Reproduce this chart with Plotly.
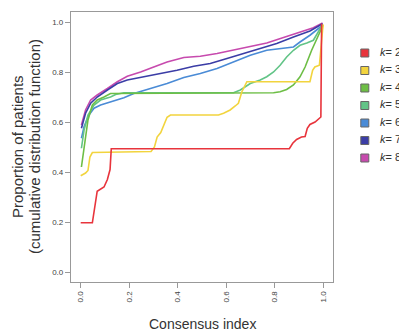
import plotly.graph_objects as go

# ---- data ----
k2_x = [0.0, 0.048, 0.068, 0.082, 0.096, 0.110, 0.121, 0.126, 0.86, 0.874, 0.89, 0.91, 0.925, 0.934, 0.945, 0.966, 0.986, 0.990, 0.993]
k2_y = [0.197, 0.197, 0.323, 0.330, 0.340, 0.370, 0.410, 0.493, 0.493, 0.515, 0.530, 0.540, 0.542, 0.575, 0.590, 0.600, 0.620, 0.620, 0.993]

k3_x = [0.0, 0.02, 0.03, 0.038, 0.048, 0.29, 0.304, 0.315, 0.33, 0.342, 0.356, 0.37, 0.568, 0.589, 0.616, 0.637, 0.65, 0.664, 0.685, 0.945, 0.956, 0.965, 0.984, 0.997, 1.0]
k3_y = [0.385, 0.396, 0.406, 0.460, 0.478, 0.482, 0.500, 0.540, 0.558, 0.588, 0.619, 0.628, 0.628, 0.635, 0.648, 0.664, 0.675, 0.720, 0.761, 0.761, 0.807, 0.820, 0.827, 0.967, 0.99]

k4_x = [0.003, 0.014, 0.03, 0.048, 0.068, 0.096, 0.123, 0.795, 0.822, 0.849, 0.877, 0.904, 0.925, 0.952, 0.979, 0.997]
k4_y = [0.420, 0.500, 0.608, 0.668, 0.688, 0.700, 0.714, 0.717, 0.721, 0.730, 0.748, 0.781, 0.820, 0.887, 0.947, 0.983]

k5_x = [0.003, 0.014, 0.03, 0.055, 0.082, 0.123, 0.144, 0.178, 0.63, 0.658, 0.699, 0.74, 0.767, 0.795, 0.822, 0.849, 0.877, 0.904, 0.932, 0.959, 0.979, 0.997]
k5_y = [0.495, 0.568, 0.628, 0.668, 0.688, 0.700, 0.710, 0.717, 0.717, 0.728, 0.754, 0.768, 0.781, 0.800, 0.827, 0.860, 0.887, 0.907, 0.916, 0.927, 0.960, 0.990]

k6_x = [0.003, 0.014, 0.034, 0.055, 0.082, 0.123, 0.178, 0.219, 0.288, 0.356, 0.425, 0.493, 0.562, 0.63, 0.699, 0.767, 0.836, 0.877, 0.904, 0.945, 0.997]
k6_y = [0.535, 0.582, 0.628, 0.655, 0.668, 0.681, 0.697, 0.714, 0.734, 0.754, 0.778, 0.794, 0.814, 0.840, 0.867, 0.887, 0.894, 0.900, 0.920, 0.947, 0.987]

k7_x = [0.003, 0.02, 0.041, 0.068, 0.11, 0.151, 0.192, 0.247, 0.315, 0.397, 0.466, 0.534, 0.603, 0.671, 0.74, 0.808, 0.877, 0.945, 0.997]
k7_y = [0.575, 0.635, 0.675, 0.700, 0.728, 0.754, 0.768, 0.778, 0.790, 0.807, 0.823, 0.834, 0.854, 0.874, 0.894, 0.914, 0.940, 0.964, 0.993]

k8_x = [0.003, 0.02, 0.041, 0.068, 0.11, 0.151, 0.192, 0.247, 0.301, 0.356, 0.425, 0.493, 0.562, 0.63, 0.699, 0.767, 0.836, 0.904, 0.959, 0.997]
k8_y = [0.588, 0.648, 0.688, 0.708, 0.734, 0.761, 0.783, 0.800, 0.820, 0.840, 0.858, 0.863, 0.874, 0.887, 0.903, 0.916, 0.938, 0.960, 0.977, 0.996]

k_labels = ["2", "3", "4", "5", "6", "7", "8"]
tick_vals = [0.0, 0.2, 0.4, 0.6, 0.8, 1.0]
tick_text = ["0.0", "0.2", "0.4", "0.6", "0.8", "1.0"]

series = [(k2_x, k2_y), (k3_x, k3_y), (k4_x, k4_y), (k5_x, k5_y),
          (k6_x, k6_y), (k7_x, k7_y), (k8_x, k8_y)]
colors = ["#E8343C", "#F2D43E", "#6DBE45", "#62C487", "#4A8BD6", "#3B3DA6", "#C74AAE"]

fig = go.Figure()
order = [6, 5, 4, 3, 2, 1, 0]
for i in order:
    xs, ys = series[i]
    fig.add_trace(go.Scatter(x=xs, y=ys, mode="lines", line=dict(color=colors[i], width=1.6),
                             showlegend=False, hoverinfo="skip"))

# legend drawn as a small key panel on its own axes
key_rows = list(range(len(k_labels)))
fig.add_trace(go.Scatter(x=[0.42] * len(k_labels), y=key_rows, mode="markers",
                         marker=dict(symbol="square", size=8, color=colors,
                                     line=dict(color="#666", width=1)),
                         xaxis="x2", yaxis="y2", showlegend=False, hoverinfo="skip",
                         cliponaxis=False))
fig.add_trace(go.Scatter(x=[0.80] * len(k_labels), y=key_rows, mode="text",
                         text=["<i>k</i>= " + lab for lab in k_labels],
                         textposition="middle right",
                         textfont=dict(family="Liberation Sans", size=11, color="#333"),
                         xaxis="x2", yaxis="y2", showlegend=False, hoverinfo="skip",
                         cliponaxis=False))

axis_common = dict(showline=True, mirror=True, linecolor="#999", linewidth=1.2,
                   ticks="outside", ticklen=5, tickcolor="#999", tickwidth=1,
                   showgrid=False, zeroline=False,
                   tickfont=dict(family="Liberation Sans", size=8, color="#444"),
                   tickvals=tick_vals, ticktext=tick_text)

W, H = 399, 325
ML, MR, MT, MB = 63, 2, 4, 51
paper_w = W - ML - MR
plot_w = 262

title_font = dict(family="Liberation Sans", size=15, color="#333")

fig.update_layout(
    width=W, height=H,
    margin=dict(l=ML, r=MR, t=MT, b=MB, autoexpand=False),
    paper_bgcolor="white", plot_bgcolor="white",
    font=dict(family="Liberation Sans", color="#333"),
    showlegend=False,
    xaxis=dict(domain=[0, plot_w / paper_w], range=[-0.04, 1.04], tickangle=-90, **axis_common),
    yaxis=dict(domain=[0, 1], range=[-0.04, 1.04], **axis_common),
    xaxis2=dict(domain=[(340 - ML) / paper_w, (380 - ML) / paper_w], range=[0, 1],
                visible=False, anchor="y2"),
    yaxis2=dict(domain=[(274 - 150) / 270, (274 - 45) / 270], range=[6, 0],
                visible=False, anchor="x2"),
    annotations=[
        dict(text="Consensus index", xref="x domain", yref="y domain", x=0.5, y=-0.157,
             xanchor="center", yanchor="middle", showarrow=False,
             font=dict(family="Liberation Sans", size=14, color="#333")),
        dict(text="Proportion of patients",
             xref="x domain", yref="y domain", x=-0.206, y=0.5, textangle=-90,
             xanchor="center", yanchor="middle", showarrow=False, font=title_font),
        dict(text="(cumulative distribution function)",
             xref="x domain", yref="y domain", x=-0.141, y=0.5, textangle=-90,
             xanchor="center", yanchor="middle", showarrow=False, font=title_font),
    ],
)

fig.write_html("out.html")
